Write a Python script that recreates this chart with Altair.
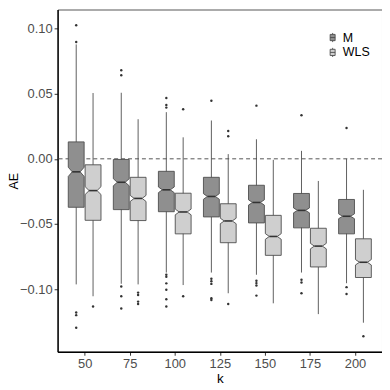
import altair as alt
import pandas as pd

# ---- data ----
K = [50, 75, 100, 125, 150, 175, 200]
GROUPS = ["M", "WLS"]

M_wlo = [-0.0964, -0.0959, -0.0873, -0.0873, -0.0890, -0.0873, -0.0955]
M_q1 = [-0.0372, -0.0390, -0.0406, -0.0446, -0.0492, -0.0530, -0.0576]
M_med = [-0.0100, -0.0180, -0.0238, -0.0289, -0.0335, -0.0396, -0.0441]
M_q3 = [0.0130, -0.0005, -0.0096, -0.0142, -0.0203, -0.0266, -0.0312]
M_whi = [0.0878, 0.0507, 0.0358, 0.0294, 0.0150, 0.0061, 0.0000]
M_out = [
    [0.1025, 0.0896, -0.1180, -0.1200, -0.1296],
    [0.0680, 0.0642, -0.0980, -0.1055, -0.1149],
    [0.0467, 0.0413, 0.0393, -0.0890, -0.0906, -0.0956, -0.1005, -0.1078, -0.1134],
    [0.0446, -0.0920, -0.0940, -0.0960, -0.1070, -0.1083],
    [0.0408, -0.0936, -0.0954, -0.0972, -0.1050],
    [0.0335, -0.0928, -0.0949, -0.1032],
    [0.0236, -0.0985, -0.1038],
]

W_wlo = [-0.1055, -0.0964, -0.0969, -0.1032, -0.1109, -0.1192, -0.1258]
W_q1 = [-0.0472, -0.0474, -0.0576, -0.0644, -0.0741, -0.0830, -0.0911]
W_med = [-0.0244, -0.0304, -0.0408, -0.0477, -0.0596, -0.0670, -0.0794]
W_q3 = [-0.0046, -0.0142, -0.0264, -0.0345, -0.0434, -0.0533, -0.0614]
W_whi = [0.0505, 0.0304, 0.0165, 0.0036, -0.0008, -0.0170, -0.0238]
W_out = [
    [-0.1134],
    [-0.1027, -0.1045, -0.1096, -0.1114],
    [0.0380, -0.1055],
    [0.0213, 0.0173, -0.1114],
    [],
    [],
    [-0.1362],
]

N_SIM = 500  # replications per box (for notch size)

# ---- geometry / style constants ----
STEP = 25.0
BOX_W = 0.352 * STEP
DODGE = 0.187 * STEP
FILLS = ["#8f8f8f", "#cfcfcf"]
FONT = "Liberation Sans"

stats = {
    "M": (M_wlo, M_q1, M_med, M_q3, M_whi, M_out),
    "WLS": (W_wlo, W_q1, W_med, W_q3, W_whi, W_out),
}

poly_rows, box_rows, out_rows = [], [], []
for gi, g in enumerate(GROUPS):
    wlo, q1, med, q3, whi, out = stats[g]
    sign = -1 if gi == 0 else 1
    for i, k in enumerate(K):
        c = k + sign * DODGE
        iqr = q3[i] - q1[i]
        notch = 1.58 * iqr / (N_SIM ** 0.5)
        bid = f"{g}-{k}"
        full, half = BOX_W / 2, BOX_W / 4
        verts = [
            (q1[i], full),
            (med[i] - notch, full),
            (med[i], half),
            (med[i] + notch, full),
            (q3[i], full),
        ]
        for j, (yv, hw) in enumerate(verts):
            poly_rows.append(dict(box=bid, group=g, idx=j, y=yv,
                                  xl=c - hw, xr=c + hw))
        box_rows.append(dict(box=bid, group=g, c=c, wlo=wlo[i], whi=whi[i],
                             med=med[i], ml=c - half, mr=c + half))
        for o in out[i]:
            out_rows.append(dict(group=g, c=c, v=o))

poly = pd.DataFrame(poly_rows)
boxes = pd.DataFrame(box_rows)
outs = pd.DataFrame(out_rows)

xscale = alt.Scale(domain=[35, 215], nice=False, zero=False)
yscale = alt.Scale(domain=[-0.1481, 0.1146], nice=False, zero=False)

xax = alt.Axis(values=K, format="d", title="k", grid=False, titlePadding=1)
yax = alt.Axis(values=[-0.10, -0.05, 0.0, 0.05, 0.10], format=".2f",
               title="AE", grid=False, titleX=-40.8,
               titleBaseline="alphabetic", titleFontSize=12.5)

whisk = alt.Chart(boxes).mark_rule(color="#4d4d4d", strokeWidth=0.9).encode(
    x=alt.X("c:Q", scale=xscale, axis=xax),
    y=alt.Y("wlo:Q", scale=yscale, axis=yax),
    y2="whi:Q",
)

zero = alt.Chart(pd.DataFrame({"z": [0.0]})).mark_rule(
    color="#555555", strokeDash=[4, 3], strokeWidth=1
).encode(y=alt.Y("z:Q", scale=yscale))

LEG_PATH = ("M-0.6,-0.75L0.6,-0.75L0.6,0.75L-0.6,0.75Z "
            "M-0.6,0L0.6,0 M0,-1.1L0,-0.75 M0,0.75L0,1.1")

area = alt.Chart(poly).mark_area(
    orient="horizontal", stroke="#4d4d4d", strokeWidth=0.9, opacity=1
).encode(
    y=alt.Y("y:Q", scale=yscale),
    x=alt.X("xl:Q", scale=xscale, stack=None),
    x2="xr:Q",
    fill=alt.Fill("group:N", scale=alt.Scale(domain=GROUPS, range=FILLS),
                  legend=alt.Legend(title=None, orient="none", legendX=271,
                                    legendY=22, symbolType=LEG_PATH,
                                    symbolSize=70, symbolStrokeColor="#4d4d4d",
                                    symbolStrokeWidth=0.9, labelFontSize=12.5,
                                    labelFont=FONT, labelColor="#000000",
                                    rowPadding=1, labelOffset=4)),
    detail="box:N",
)

medl = alt.Chart(boxes).mark_rule(color="#333333", strokeWidth=1.6).encode(
    x=alt.X("ml:Q", scale=xscale), x2="mr:Q", y=alt.Y("med:Q", scale=yscale)
)

pts = alt.Chart(outs).mark_circle(size=6, color="#333333", opacity=1).encode(
    x=alt.X("c:Q", scale=xscale), y=alt.Y("v:Q", scale=yscale)
)

chart = alt.layer(zero, whisk, area, medl, pts).properties(
    width=327, height=345,
    autosize=alt.AutoSizeParams(type="none"),
    padding={"left": 50, "top": 0, "right": 0, "bottom": 34},
).configure_view(
    stroke="#555555", strokeWidth=1
).configure_axis(
    domainColor="#000000", domainWidth=1.4, tickColor="#333333", tickSize=3.5,
    labelFont=FONT, labelFontSize=13, labelColor="#4d4d4d", labelPadding=2,
    titleFont=FONT, titleFontSize=13.5, titleFontWeight="normal",
    titleColor="#000000",
)

chart.save("out.html", embed_options={"renderer": "svg", "actions": False})
